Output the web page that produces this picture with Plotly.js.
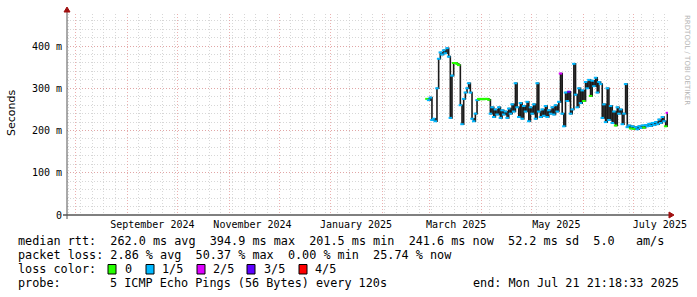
<!DOCTYPE html>
<html><head><meta charset="utf-8">
<script src="https://cdn.plot.ly/plotly-3.0.1.min.js"></script>
<style>html,body{margin:0;padding:0;background:#fff;}#chart{width:697px;height:297px;}</style>
</head><body><div id="chart"></div>
<script>
// ---- data ----
const seriesStart = '2025-02-27';
const medianRttMs = [
 275,272,278,225,228,222,300,370,385,380,
 390,383,395,375,230,330,360,360,358,355,
 260,215,275,290,300,312,290,228,222,240,
 272,275,274,275,274,275,275,273,240,255,
 232,250,238,255,230,248,238,245,230,252,
 240,262,245,312,255,232,265,228,258,245,
 268,222,255,240,262,228,312,245,232,250,
 235,258,232,248,240,255,238,260,245,268,
 335,240,210,290,270,292,240,250,358,285,
 255,300,265,295,270,315,300,320,282,318,
 305,325,290,315,310,230,262,220,300,225,
 258,218,245,212,255,240,250,215,240,310,
 208,212,205,210,204,208,203,210,206,212,
 207,213,210,216,211,218,213,220,215,226,
 218,232,222,210,242
];
const lossClass = [
 0,1,1,1,1,1,1,1,1,1,
 1,1,1,1,1,1,0,0,0,0,
 1,1,1,1,1,1,1,1,1,1,
 1,0,0,0,0,0,0,0,1,1,
 1,1,1,1,1,1,1,1,1,1,
 1,1,1,1,1,1,1,1,1,1,
 1,1,1,1,1,1,1,1,1,1,
 1,1,1,1,1,1,1,1,1,1,
 2,1,1,1,1,3,1,1,1,1,
 1,1,1,1,0,1,1,1,0,1,
 1,1,1,1,1,1,1,1,1,1,
 1,1,1,0,1,1,1,1,1,1,
 1,1,0,1,0,1,1,1,1,1,
 0,1,1,1,1,1,1,1,1,1,
 1,1,1,0,2
];
const lossLabels = ['0','1/5','2/5','3/5','4/5'];
const lossColors = ['#26ff00','#00b8ff','#dd00ff','#5e00ff','#ff0000'];
const xRange = ['2024-07-26 21:18:33','2025-07-21 21:18:33'];
const monthTickVals = ['2024-09-16','2024-11-15','2025-01-16','2025-03-17','2025-05-16','2025-07-17'];
const monthTickText = ['September 2024','November 2024','January 2025','March 2025','May 2025','July 2025'];
const yTickVals = [0,100,200,300,400];
const yTickText = ['0','100 m','200 m','300 m','400 m'];
const statsLine1 = 'median rtt:  262.0 ms avg  394.9 ms max  201.5 ms min  241.6 ms now  52.2 ms sd  5.0   am/s';
const statsLine2 = 'packet loss: 2.86 % avg  50.37 % max  0.00 % min  25.74 % now';
const lossLegendTitle = 'loss color:';
const probeLabel = 'probe:';
const probeText = '5 ICMP Echo Pings (56 Bytes) every 120s';
const endText = 'end: Mon Jul 21 21:18:33 2025';
const yTitle = 'Seconds';
const watermark = 'RRDTOOL / TOBI OETIKER';

// ---- layout helpers (pixel -> paper) ----
const L = 67, R = 668, T = 14, B = 215;
const px = x => (x - L) / (R - L);
const py = y => (B - y) / (B - T);
const nb = s => s.replace(/ /g, '\u00a0');

const t0 = Date.parse(seriesStart + 'T00:00:00Z');
const dates = medianRttMs.map((_, i) => new Date(t0 + i * 86400000).toISOString().slice(0, 10) + ' 12:00');

const mono = 'DejaVu Sans Mono, monospace';

const traces = [
  {x: dates, y: medianRttMs, type: 'scatter', mode: 'lines',
   line: {shape: 'hv', color: '#1a1a1a', width: 1.6}, hoverinfo: 'skip', showlegend: false},
  {x: dates, y: medianRttMs, type: 'scatter', mode: 'markers',
   marker: {symbol: 'line-ew', size: 2.5, line: {width: 2, color: lossClass.map(c => lossColors[c])}},
   hoverinfo: 'skip', showlegend: false},
  {x: [monthTickVals[0]], y: [null], xaxis: 'x2', type: 'scatter', mode: 'markers', hoverinfo: 'skip', showlegend: false}
];

const annotations = [];
const ann = (text, x, y, opts) => annotations.push(Object.assign({
  text: nb(text), xref: 'paper', yref: 'paper', x: px(x), y: py(y), showarrow: false,
  xanchor: 'left', yanchor: 'middle', font: {family: mono, size: 11.8, color: '#000'}
}, opts || {}));

ann(statsLine1, 16, 241);
ann(statsLine2, 16, 255);
ann(lossLegendTitle, 16, 269);
const legendSquareX = [108, 146, 197, 247, 299];
const legendLabelX = [123, 160, 211, 262, 313];
const shapes = [];
lossLabels.forEach((lab, i) => {
  ann(lab, legendLabelX[i], 269);
  shapes.push({type: 'rect', xref: 'paper', yref: 'paper',
    x0: px(legendSquareX[i]), x1: px(legendSquareX[i] + 8), y0: py(264.5), y1: py(274),
    fillcolor: lossColors[i], line: {color: '#000', width: 1}});
});
ann(probeLabel, 16, 283);
ann(probeText, 108, 283);
ann(endText, 681, 283, {xanchor: 'right'});
ann(yTitle, 11, 113, {xanchor: 'center', textangle: -90, font: {family: 'DejaVu Sans, sans-serif', size: 11, color: '#000'}});
ann(watermark, 687, 60, {xanchor: 'center', textangle: 90, font: {family: 'DejaVu Sans, sans-serif', size: 7, color: '#b4b4b4'}});

// axis lines and arrows
shapes.push({type: 'line', xref: 'paper', yref: 'paper', x0: px(63), x1: px(670), y0: py(215), y1: py(215), line: {color: '#000', width: 1}});
shapes.push({type: 'line', xref: 'paper', yref: 'paper', x0: px(67), x1: px(67), y0: py(219), y1: py(10), line: {color: '#555', width: 1}});
shapes.push({type: 'path', xref: 'paper', yref: 'paper',
  path: `M ${px(669)} ${py(212)} L ${px(674)} ${py(215)} L ${px(669)} ${py(218)} Z`, fillcolor: '#a01010', line: {color: '#a01010', width: 1}});
shapes.push({type: 'path', xref: 'paper', yref: 'paper',
  path: `M ${px(64)} ${py(12)} L ${px(67)} ${py(7)} L ${px(70)} ${py(12)} Z`, fillcolor: '#a01010', line: {color: '#a01010', width: 1}});

const majorGrid = 'rgba(228,150,150,0.75)';
const minorGrid = 'rgba(205,205,205,0.8)';

const layout = {
  width: 697, height: 297,
  margin: {l: L, r: 697 - R, t: T, b: 297 - B},
  paper_bgcolor: '#fff', plot_bgcolor: '#fff',
  showlegend: false,
  xaxis: {type: 'date', range: xRange, showticklabels: false, ticks: '',
    tickmode: 'linear', tick0: '2024-08-01', dtick: 'M1',
    showgrid: true, gridcolor: majorGrid, griddash: '1px,2px', gridwidth: 1,
    minor: {tick0: '2024-08-04', dtick: 7 * 86400000, showgrid: true, gridcolor: minorGrid, griddash: '1px,2px', gridwidth: 1},
    zeroline: false, showline: false, fixedrange: true},
  xaxis2: {type: 'date', range: xRange, overlaying: 'x', anchor: 'y', side: 'bottom',
    tickmode: 'array', tickvals: monthTickVals, ticktext: monthTickText, ticks: '',
    showgrid: false, zeroline: false, showline: false, ticklabelstandoff: 2,
    tickfont: {family: mono, size: 10, color: '#000'}},
  yaxis: {range: [0, 476], tickmode: 'array', tickvals: yTickVals, ticktext: yTickText, ticks: '',
    showgrid: true, gridcolor: majorGrid, griddash: '1px,2px', gridwidth: 1,
    minor: {dtick: 20, tick0: 0, showgrid: true, gridcolor: minorGrid, griddash: '1px,2px', gridwidth: 1},
    zeroline: false, showline: false, ticklabelstandoff: 4,
    tickfont: {family: mono, size: 10, color: '#000'}},
  annotations, shapes
};

Plotly.newPlot('chart', traces, layout, {staticPlot: true, displayModeBar: false});
</script>
</body></html>
